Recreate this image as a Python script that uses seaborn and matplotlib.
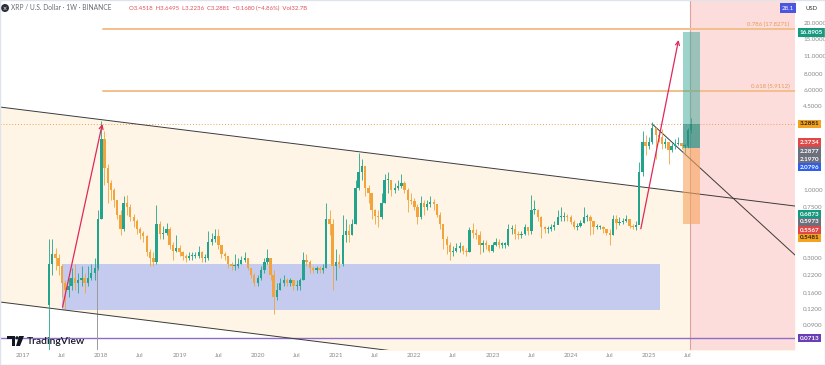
import pandas as pd
import seaborn as sns
import matplotlib.pyplot as plt
from matplotlib.patches import Rectangle, Ellipse, Polygon
from matplotlib.ticker import NullLocator

# semi-monthly candles (closes, highs, lows)
first_open = 0.13
c2017 = [0.27, 0.32, 0.30, 0.26, 0.19, 0.17, 0.18, 0.21, 0.19, 0.20, 0.21, 0.19, 0.21, 0.23, 0.25, 0.60]
h2017 = [0.42, 0.42, 0.36, 0.32, 0.27, 0.20, 0.21, 0.25, 0.27, 0.23, 0.26, 0.23, 0.26, 0.27, 0.30, 0.70]
l2017 = [0.006, 0.22, 0.24, 0.22, 0.15, 0.12, 0.15, 0.17, 0.17, 0.16, 0.18, 0.16, 0.18, 0.20, 0.20, 0.24]

c2018 = [2.5, 1.5, 1.15, 1.0, 0.85, 0.65, 0.50, 0.80, 0.75, 0.62, 0.58, 0.50, 0.47, 0.44, 0.33, 0.30, 0.28, 0.55, 0.46, 0.47, 0.50, 0.38, 0.34, 0.36]
h2018 = [3.45, 2.9, 1.6, 1.2, 1.05, 0.85, 0.70, 0.90, 0.92, 0.78, 0.66, 0.60, 0.52, 0.48, 0.45, 0.35, 0.33, 0.77, 0.58, 0.53, 0.56, 0.52, 0.40, 0.45]
l2018 = [0.6, 1.1, 0.8, 0.85, 0.75, 0.60, 0.45, 0.48, 0.65, 0.58, 0.52, 0.46, 0.42, 0.40, 0.31, 0.26, 0.26, 0.27, 0.42, 0.42, 0.45, 0.35, 0.29, 0.33]

c2019 = [0.33, 0.31, 0.30, 0.31, 0.31, 0.31, 0.33, 0.30, 0.30, 0.40, 0.42, 0.44, 0.38, 0.32, 0.31, 0.27, 0.26, 0.26, 0.27, 0.29, 0.30, 0.25, 0.22, 0.19]
h2019 = [0.38, 0.34, 0.32, 0.33, 0.33, 0.33, 0.37, 0.34, 0.32, 0.48, 0.47, 0.50, 0.50, 0.36, 0.33, 0.30, 0.28, 0.32, 0.30, 0.31, 0.33, 0.30, 0.25, 0.23]
l2019 = [0.31, 0.29, 0.28, 0.29, 0.29, 0.30, 0.30, 0.28, 0.28, 0.29, 0.38, 0.40, 0.35, 0.30, 0.29, 0.25, 0.24, 0.24, 0.25, 0.27, 0.28, 0.24, 0.21, 0.18]

c2020 = [0.21, 0.24, 0.28, 0.30, 0.22, 0.15, 0.17, 0.19, 0.20, 0.19, 0.20, 0.18, 0.18, 0.20, 0.29, 0.28, 0.25, 0.24, 0.25, 0.24, 0.25, 0.60, 0.55, 0.26]
h2020 = [0.22, 0.26, 0.30, 0.35, 0.30, 0.24, 0.19, 0.21, 0.22, 0.21, 0.21, 0.20, 0.20, 0.21, 0.33, 0.32, 0.29, 0.26, 0.26, 0.26, 0.27, 0.80, 0.70, 0.60]
l2020 = [0.18, 0.20, 0.23, 0.27, 0.20, 0.11, 0.14, 0.17, 0.18, 0.18, 0.18, 0.17, 0.17, 0.17, 0.20, 0.26, 0.23, 0.23, 0.23, 0.23, 0.23, 0.25, 0.45, 0.17]

c2021 = [0.28, 0.27, 0.45, 0.48, 0.45, 0.55, 1.05, 1.40, 1.55, 1.05, 0.95, 0.70, 0.63, 0.62, 0.80, 1.20, 1.20, 1.00, 1.05, 1.08, 1.15, 1.00, 0.85, 0.83]
h2021 = [0.35, 0.32, 0.65, 0.60, 0.55, 0.60, 1.20, 1.96, 1.75, 1.50, 1.10, 0.95, 0.72, 0.70, 0.95, 1.35, 1.40, 1.15, 1.15, 1.20, 1.35, 1.18, 1.05, 0.95]
l2021 = [0.20, 0.25, 0.26, 0.40, 0.40, 0.45, 0.55, 1.00, 1.20, 0.90, 0.80, 0.60, 0.55, 0.52, 0.60, 0.80, 0.95, 0.90, 0.95, 1.00, 1.05, 0.95, 0.68, 0.78]

c2022 = [0.75, 0.62, 0.80, 0.75, 0.78, 0.82, 0.78, 0.65, 0.55, 0.42, 0.38, 0.33, 0.34, 0.36, 0.37, 0.34, 0.33, 0.49, 0.47, 0.45, 0.38, 0.39, 0.38, 0.34]
h2022 = [0.87, 0.78, 0.90, 0.85, 0.85, 0.90, 0.86, 0.78, 0.68, 0.55, 0.44, 0.40, 0.37, 0.39, 0.40, 0.38, 0.36, 0.52, 0.56, 0.50, 0.48, 0.41, 0.41, 0.38]
l2022 = [0.70, 0.55, 0.60, 0.65, 0.70, 0.75, 0.70, 0.62, 0.50, 0.35, 0.32, 0.29, 0.31, 0.33, 0.33, 0.32, 0.31, 0.33, 0.43, 0.42, 0.32, 0.33, 0.35, 0.33]

c2023 = [0.38, 0.40, 0.38, 0.38, 0.38, 0.50, 0.50, 0.46, 0.45, 0.46, 0.52, 0.48, 0.70, 0.70, 0.62, 0.52, 0.50, 0.50, 0.52, 0.54, 0.62, 0.62, 0.63, 0.62]
h2023 = [0.40, 0.43, 0.42, 0.40, 0.40, 0.55, 0.54, 0.55, 0.48, 0.48, 0.55, 0.52, 0.93, 0.85, 0.72, 0.63, 0.53, 0.53, 0.55, 0.58, 0.70, 0.74, 0.68, 0.66]
l2023 = [0.33, 0.37, 0.36, 0.36, 0.36, 0.37, 0.46, 0.42, 0.42, 0.43, 0.45, 0.45, 0.46, 0.66, 0.58, 0.43, 0.47, 0.47, 0.48, 0.49, 0.55, 0.58, 0.58, 0.58]

c2024 = [0.57, 0.52, 0.53, 0.56, 0.62, 0.62, 0.58, 0.52, 0.52, 0.52, 0.50, 0.47, 0.45, 0.60, 0.56, 0.57, 0.58, 0.60, 0.53, 0.52, 0.54, 1.40, 2.40, 2.20]
h2024 = [0.64, 0.59, 0.56, 0.59, 0.74, 0.66, 0.64, 0.55, 0.55, 0.54, 0.53, 0.50, 0.50, 0.64, 0.64, 0.62, 0.61, 0.65, 0.60, 0.55, 0.58, 1.65, 2.90, 2.70]
l2024 = [0.55, 0.50, 0.49, 0.52, 0.56, 0.58, 0.45, 0.46, 0.50, 0.50, 0.47, 0.45, 0.38, 0.45, 0.50, 0.54, 0.55, 0.57, 0.51, 0.50, 0.49, 0.55, 1.30, 1.90]

c2025 = [2.40, 3.05, 2.70, 2.60, 2.30, 2.40, 2.05, 2.20, 2.30, 2.35, 2.20, 2.20, 2.95, 3.2881]
h2025 = [2.60, 3.40, 3.10, 2.90, 3.00, 2.55, 2.25, 2.35, 2.50, 2.60, 2.35, 2.30, 3.05, 3.6495]
l2025 = [2.10, 2.30, 1.77, 2.40, 2.10, 2.15, 1.62, 2.00, 2.10, 2.25, 2.10, 1.95, 2.15, 2.80]

closes = c2017 + c2018 + c2019 + c2020 + c2021 + c2022 + c2023 + c2024 + c2025
highs = h2017 + h2018 + h2019 + h2020 + h2021 + h2022 + h2023 + h2024 + h2025
lows = l2017 + l2018 + l2019 + l2020 + l2021 + l2022 + l2023 + l2024 + l2025
dates = pd.date_range('2017-05-01', '2025-07-15', freq='SMS')
assert len(dates) == len(closes) == len(highs) == len(lows)

# drawings on the chart
fib_start = '2018-01-08'
fib_levels = [17.8271, 5.9112]
fib_names = ['0.786 (17.8271)', '0.618 (5.9112)']
last_price = 3.2881
support_price = 0.0713
zone_dates = ['2017-07-01', '2025-02-20']
zone_prices = [0.118, 0.268]
channel_dates = ['2016-09-15', '2026-11-12']
channel_top = [4.45, 0.757]
channel_bottom = [0.136, 0.0231]
ray_dates = ['2025-01-14', '2026-11-12']
ray_prices = [3.29, 0.315]
arrow1 = [('2017-07-01', 0.118), ('2018-01-08', 3.45)]
arrow2 = [('2024-11-20', 0.48), ('2025-05-20', 15.5)]
pos_dates = ['2025-06-08', '2025-08-26']
pos_target, pos_entry, pos_stop = 16.8905, 2.15, 0.5481
future_start = '2025-07-10'
price_ticks = [20, 15, 11, 8, 6, 4.5, 1.0, 0.75, 0.3, 0.22, 0.16, 0.12, 0.09]

sns.set_theme(style='white')
plt.rcParams['font.family'] = ['Lato', 'DejaVu Sans']

fig = plt.figure(figsize=(8.25, 3.65), dpi=100)
ax = fig.add_axes([0, 15 / 365, 795 / 825, 350 / 365])
ax.set_yscale('log')
ax.set_ylim(0.0576, 30.2)
xmin, xmax = pd.Timestamp('2016-09-15'), pd.Timestamp('2026-11-12')
ax.set_xlim(xmin, xmax)
for s in ax.spines.values():
    s.set_visible(False)

T = pd.to_datetime
# channel fill
ax.fill_between(T(channel_dates), channel_bottom, channel_top, color='#fef5e6', lw=0, zorder=0.1)
ax.plot(T(channel_dates), channel_top, color='#3a3a3a', lw=0.7, zorder=1.2)
ax.plot(T(channel_dates), channel_bottom, color='#3a3a3a', lw=0.7, zorder=1.2)
ax.plot(T(ray_dates), ray_prices, color='#3a3a3a', lw=0.7, zorder=1.2)

# support zone
ax.add_patch(Rectangle((T(zone_dates[0]), zone_prices[0]),
                       T(zone_dates[1]) - T(zone_dates[0]), zone_prices[1] - zone_prices[0],
                       facecolor='#c5cbef', edgecolor='none', zorder=0.5))

# future area
ax.axvspan(T(future_start), xmax, color='#fdddDB', lw=0, zorder=0.6)
ax.axvline(T(future_start), color='#d8a3a3', lw=0.8, zorder=0.7)

# fib levels
for lvl, name in zip(fib_levels, fib_names):
    ax.plot([T(fib_start), xmax], [lvl, lvl], color='#f2bf8c', lw=1.4, zorder=1)
    ax.text(0.993, lvl * 1.04, name, transform=ax.get_yaxis_transform(),
            ha='right', va='bottom', fontsize=4.3, color='#e39a55')

ax.axhline(last_price, color='#f0a04b', lw=0.7, ls=(0, (1, 2)), zorder=1)
ax.axhline(support_price, color='#8e6cc8', lw=1.0, zorder=1)
ax.plot([T('2017-12-12'), T('2017-12-12')], [0.42, 0.05], color='#9a9a9a', lw=0.7, zorder=1)

# candles
opens = [first_open] + closes[:-1]
up = [c >= o for o, c in zip(opens, closes)]
cols = ['#22a48c' if u else '#f2a33a' for u in up]
bottoms = [min(o, c) for o, c in zip(opens, closes)]
heights = [max(abs(c - o), c * 0.02) for o, c in zip(opens, closes)]
ax.vlines(dates, lows, highs, colors=cols, lw=0.6, zorder=2)
ax.bar(dates, heights, bottom=bottoms, width=11, color=cols, lw=0, zorder=2.1)

# position tool
d0, d1 = T(pos_dates[0]), T(pos_dates[1])
ax.add_patch(Rectangle((d0, pos_entry), d1 - d0, pos_target - pos_entry,
                       facecolor='#3aa996', alpha=0.5, lw=0, zorder=2.5))
ax.add_patch(Rectangle((d0, pos_entry), d1 - d0, last_price - pos_entry,
                       facecolor='#1d7a6c', alpha=0.45, lw=0, zorder=2.6))
ax.add_patch(Rectangle((d0, pos_stop), d1 - d0, pos_entry - pos_stop,
                       facecolor='#f7a45e', alpha=0.6, lw=0, zorder=2.5))

# arrows
for (a, b) in (arrow1, arrow2):
    ax.annotate('', xy=(T(b[0]), b[1]), xytext=(T(a[0]), a[1]),
                arrowprops=dict(arrowstyle='->', color='#e0285a', lw=0.9, mutation_scale=7),
                zorder=3)

# axes ticks
ax.yaxis.tick_right()
ax.set_yticks(price_ticks)
ax.set_yticklabels([f'{v:.4f}' for v in price_ticks])
ax.yaxis.set_minor_locator(NullLocator())
ax.tick_params(axis='y', length=0, pad=6, labelsize=4.5, labelcolor='#8a8a8a')
xt, xl = [], []
for yr in range(2017, 2026):
    xt += [pd.Timestamp(f'{yr}-01-01'), pd.Timestamp(f'{yr}-07-01')]
    xl += [str(yr), 'Jul']
ax.set_xticks(xt)
ax.set_xticklabels(xl)
ax.tick_params(axis='x', length=0, pad=2.5, labelsize=4.5, labelcolor='#8a8a8a')
ax.grid(False)

# price labels on the scale
labels = [('16.8905', 16.8905, 0, '#169a7f', 'white'),
          ('3.2881', 3.2881, 0, '#f5a21f', '#222222'),
          ('2.3734', 2.3734, 0, '#e04848', 'white'),
          ('2.2877', 2.2877, -6.8, '#6c707c', 'white'),
          ('2.1970', 2.1970, -12.6, '#6c707c', 'white'),
          ('2.0796', 2.0796, -17.5, '#2f5fe8', 'white'),
          ('0.6873', 0.6873, -2.6, '#169a7f', 'white'),
          ('0.5973', 0.5973, -2.7, '#6c707c', 'white'),
          ('0.5567', 0.5567, -6.8, '#e04848', 'white'),
          ('0.5481', 0.5481, -13.9, '#f5a21f', '#222222'),
          ('0.0713', 0.0713, 0, '#6a3fb5', 'white')]
for txt, v, off, fc, tc in labels:
    ax.annotate(txt, xy=(1, v), xycoords=('axes fraction', 'data'),
                xytext=(3.5, off * 0.72), textcoords='offset points',
                ha='left', va='center', fontsize=4.5, color=tc, fontweight='bold',
                bbox=dict(boxstyle='square,pad=0.3', fc=fc, ec='none'), annotation_clip=False)

fig.text(805 / 825, 1 - 9 / 365, 'USD', fontsize=4.3, color='#333333', va='center')
fig.text(782 / 825, 1 - 8 / 365, '28.1', fontsize=4.5, color='white', va='center',
         bbox=dict(boxstyle='square,pad=0.35', fc='#4a55e0', ec='none'))


def fp(x, y):
    return (x / 825, 1 - y / 365)


# header
fig.patches.append(Ellipse(fp(5, 8), 8 / 825, 8 / 365, transform=fig.transFigure,
                           facecolor='#2a2e39', edgecolor='none'))
fig.text(5 / 825, 1 - 8 / 365, '×', fontsize=5, color='white', ha='center', va='center')
fig.text(11 / 825, 1 - 8 / 365, 'XRP / U.S. Dollar · 1W · BINANCE', fontsize=4.8,
         color='#6a6d78', va='center')
fig.text(129 / 825, 1 - 8 / 365, 'O3.4518  H3.6495  L3.2236  C3.2881  −0.1680 (−4.86%)  Vol32.7B',
         fontsize=4.3, color='#e0505a', va='center')

# TradingView mark
for poly in ([fp(7, 336), fp(15, 336), fp(15, 346), fp(12, 346), fp(12, 339), fp(7, 339)],
             [fp(19, 336), fp(24, 336), fp(20, 346), fp(16, 346)]):
    fig.patches.append(Polygon(poly, closed=True, transform=fig.transFigure,
                               facecolor='#131722', edgecolor='none'))
fig.patches.append(Ellipse(fp(17, 337.8), 3.2 / 825, 3.2 / 365, transform=fig.transFigure,
                           facecolor='#131722', edgecolor='none'))
fig.text(27 / 825, 1 - 341 / 365, 'TradingView', fontsize=7.5, color='#131722',
         fontweight='semibold', va='center')

fig.patches.append(Rectangle((0, 0), 1, 1, transform=fig.transFigure, fill=False,
                             edgecolor='#e0e3eb', lw=1))

fig.savefig('out.png', dpi=100)
